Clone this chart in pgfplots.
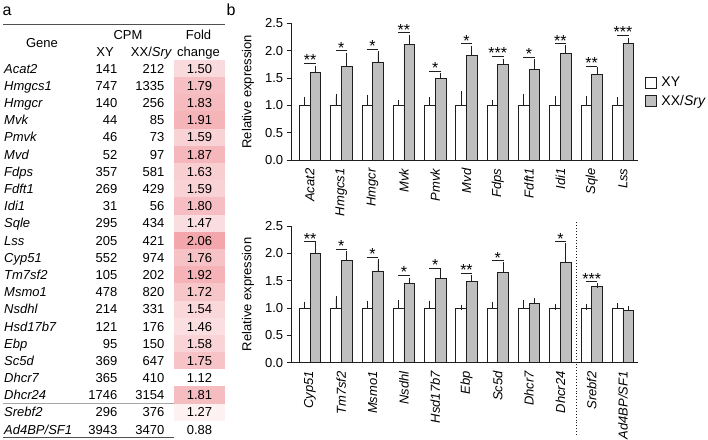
\documentclass[border=0pt]{standalone}
\usepackage{pgfplots}
\usepackage{pgfplotstable}
\pgfplotsset{compat=1.18}
\usepackage{fontspec}
\setmainfont{Liberation Sans}
\definecolor{pinkmax}{RGB}{243,166,171}
\definecolor{barfill}{RGB}{191,191,191}
\definecolor{rulegray}{RGB}{80,80,80}
\definecolor{linec}{RGB}{30,30,30}
\newcommand\fs{\fontsize{13}{15}\selectfont}

\pgfdeclareplotmark{cell}{%
  \pgfpathrectangle{\pgfpoint{-25.5pt}{-8.65pt}}{\pgfpoint{51pt}{17.3pt}}%
  \pgfusepathqfill}

\pgfplotstableread{
gene xy xx fold
Acat2 141 212 1.50
Hmgcs1 747 1335 1.79
Hmgcr 140 256 1.83
Mvk 44 85 1.91
Pmvk 46 73 1.59
Mvd 52 97 1.87
Fdps 357 581 1.63
Fdft1 269 429 1.59
Idi1 31 56 1.80
Sqle 295 434 1.47
Lss 205 421 2.06
Cyp51 552 974 1.76
Tm7sf2 105 202 1.92
Msmo1 478 820 1.72
Nsdhl 214 331 1.54
Hsd17b7 121 176 1.46
Ebp 95 150 1.58
Sc5d 369 647 1.75
Dhcr7 365 410 1.12
Dhcr24 1746 3154 1.81
Srebf2 296 376 1.27
Ad4BP/SF1 3943 3470 0.88
}\cpmtable

\pgfplotstableread{
gene xy xyerr xx xxerr
Acat2 1.00 0.11 1.61 0.07
Hmgcs1 1.00 0.16 1.72 0.20
Hmgcr 1.00 0.14 1.79 0.16
Mvk 1.00 0.06 2.12 0.12
Pmvk 1.00 0.10 1.49 0.06
Mvd 1.00 0.21 1.91 0.13
Fdps 1.00 0.05 1.75 0.06
Fdft1 1.00 0.16 1.66 0.14
Idi1 1.00 0.13 1.95 0.10
Sqle 1.00 0.12 1.57 0.08
Lss 1.00 0.10 2.13 0.06
}\toptab

\pgfplotstableread{
gene xy xyerr xx xxerr
Cyp51 1.00 0.07 2.00 0.16
Tm7sf2 1.00 0.18 1.87 0.13
Msmo1 1.00 0.09 1.68 0.18
Nsdhl 1.00 0.10 1.46 0.05
Hsd17b7 1.00 0.09 1.54 0.12
Ebp 1.00 0.01 1.49 0.07
Sc5d 1.00 0.07 1.66 0.13
Dhcr7 1.00 0.10 1.08 0.05
Dhcr24 1.00 0.02 1.84 0.30
Srebf2 1.00 0.02 1.39 0.02
Ad4BP/SF1 1.00 0.04 0.95 0.04
}\bottab

\pgfplotsset{
  barax/.style={
    anchor=south west, width=346.3pt, height=136.5pt, scale only axis,
    xmin=-0.585, xmax=10.48, ymin=0, ymax=2.5, clip=false,
    axis x line*=bottom, axis y line*=left,
    axis line style={-, line width=0.8pt, linec},
    xtick={0,...,10}, xtick style={draw=none},
    ytick={0,0.5,1,1.5,2,2.5},
    ytick style={line width=0.8pt, linec},
    tick align=outside, major tick length=5pt,
    /pgf/number format/assume math mode=true,
    yticklabel style={/pgf/number format/fixed, /pgf/number format/fixed zerofill, /pgf/number format/precision=1, font=\fs},
    xticklabel style={rotate=90, anchor=east, font=\fs\itshape},
    ylabel={Relative expression},
    every axis y label/.style={at={(axis description cs:-0.126,0.5)}, rotate=90, anchor=center, font=\fs},
  },
  barcommon/.style={ybar, bar width=10.7pt, bar shift=0pt, draw=linec, line width=0.8pt,
    error bars/y dir=plus, error bars/y explicit,
    error bars/error bar style={line width=0.8pt, linec},
    error bars/error mark options={mark size=2.6pt, line width=0.8pt, linec},
    legend image code/.code={\draw[##1, line width=0.8pt] (0pt,-5.5pt) rectangle (11pt,5.5pt);}},
  xybar/.style={barcommon, fill=white},
  xxbar/.style={barcommon, fill=barfill},
  sigplot/.style={only marks, mark=-, mark size=5.8pt, mark options={line width=0.8pt, linec}, linec,
    nodes near coords, point meta=explicit symbolic, forget plot,
    every node near coord/.append style={anchor=base, inner sep=0pt, yshift=-2.6pt, font=\fontsize{16}{16}\selectfont, black}},
}

\begin{document}
\begin{tikzpicture}[font=\fs]
\useasboundingbox (0,0) rectangle (708pt,439pt);
% ---------------- panel a: table ----------------
\begin{axis}[at={(0pt,0pt)}, anchor=south west, width=708pt, height=439pt, scale only axis,
  xmin=0, xmax=708, ymin=0, ymax=439, y dir=reverse, hide axis, clip=false,
  colormap={pinkmap}{rgb255(0cm)=(255,255,255) rgb255(1cm)=(243,166,171)},
  point meta min=1.12, point meta max=2.06]
\addplot[scatter, only marks, mark=cell, point meta=explicit,
  scatter/use mapped color={draw=none, fill=mapped color}]
  table[x expr=199.5, y expr=68.5+17.19*\coordindex, meta=fold]{\cpmtable};
\addplot[rulegray, line width=1.1pt, mark=none] coordinates {(3,24.5) (225,24.5)};
\addplot[black!35, line width=0.8pt, mark=none] coordinates {(3,403.7) (225,403.7)};
\addplot[rulegray, line width=1.1pt, mark=none] coordinates {(3,437.6) (225,437.6)};
\addplot[draw=none, mark=none, nodes near coords, point meta=explicit symbolic,
  every node near coord/.append style={anchor=base west, inner sep=0pt, font=\fs\itshape, black}]
  table[x expr=4, y expr=73.15+17.19*\coordindex, meta=gene]{\cpmtable};
\addplot[draw=none, mark=none, nodes near coords, point meta=explicit symbolic,
  every node near coord/.append style={anchor=base east, inner sep=0pt, font=\fs, black}]
  table[x expr=117.5, y expr=73.15+17.19*\coordindex, meta=xy]{\cpmtable};
\addplot[draw=none, mark=none, nodes near coords, point meta=explicit symbolic,
  every node near coord/.append style={anchor=base east, inner sep=0pt, font=\fs, black}]
  table[x expr=164.5, y expr=73.15+17.19*\coordindex, meta=xx]{\cpmtable};
\addplot[draw=none, mark=none, nodes near coords, point meta=explicit symbolic,
  every node near coord/.append style={anchor=base, inner sep=0pt, font=\fs, black}]
  table[x expr=199.5, y expr=73.15+17.19*\coordindex, meta=fold]{\cpmtable};
\node[anchor=base, inner sep=0pt, font=\fs] at (axis cs:128,39.2) {CPM};
\node[anchor=base, inner sep=0pt, font=\fs] at (axis cs:42,47.8) {Gene};
\node[anchor=base, inner sep=0pt, font=\fs] at (axis cs:105,56.2) {XY};
\node[anchor=base, inner sep=0pt, font=\fs] at (axis cs:151.5,56.2) {XX/\textit{Sry}};
\node[anchor=base, inner sep=0pt, font=\fs] at (axis cs:198.5,39.2) {Fold};
\node[anchor=base, inner sep=0pt, font=\fs] at (axis cs:198.5,56.2) {change};
\node[anchor=base, inner sep=0pt, font=\fontsize{16}{16}\selectfont] at (axis cs:7,16) {a};
\node[anchor=base, inner sep=0pt, font=\fontsize{16}{16}\selectfont] at (axis cs:231,16) {b};
\end{axis}

% ---------------- panel b: top chart ----------------
\begin{axis}[barax, at={(291.7pt,279pt)},
  xticklabels={Acat2,Hmgcs1,Hmgcr,Mvk,Pmvk,Mvd,Fdps,Fdft1,Idi1,Sqle,Lss},
  legend cell align=left,
  legend style={at={(1.02,0.62)}, anchor=north west, draw=none, fill=none, font=\fontsize{14}{16}\selectfont,
    row sep=4pt, column sep=3pt, inner sep=0pt, nodes={inner sep=1.5pt}}]
\addplot[xybar] table[x expr=\coordindex-0.171, y=xy, y error=xyerr]{\toptab};
\addlegendentry{XY}
\addplot[xxbar] table[x expr=\coordindex+0.171, y=xx, y error=xxerr]{\toptab};
\addlegendentry{XX/\textit{Sry}}
\addplot[sigplot] coordinates {(0,1.77)[**] (1,2.00)[*] (2,2.03)[*] (3,2.33)[**] (4,1.63)[*] (5,2.13)[*] (6,1.90)[***] (7,1.88)[*] (8,2.13)[**] (9,1.72)[**] (10,2.29)[***]};
\end{axis}

% ---------------- panel b: bottom chart ----------------
\begin{axis}[barax, at={(291.7pt,76.3pt)},
  xticklabels={Cyp51,Tm7sf2,Msmo1,Nsdhl,Hsd17b7,Ebp,Sc5d,Dhcr7,Dhcr24,Srebf2,Ad4BP/SF1}]
\addplot[xybar] table[x expr=\coordindex-0.171, y=xy, y error=xyerr]{\bottab};
\addplot[xxbar] table[x expr=\coordindex+0.171, y=xx, y error=xxerr]{\bottab};
\addplot[sigplot] coordinates {(0,2.22)[**] (1,2.08)[*] (2,1.93)[*] (3,1.60)[*] (4,1.73)[*] (5,1.64)[**] (6,1.87)[*] (8,2.22)[*] (9,1.48)[***]};
\addplot[dotted, line width=0.9pt, linec, mark=none, forget plot] coordinates {(8.5,2.57) (8.5,-1.36)};
\end{axis}
\end{tikzpicture}
\end{document}
